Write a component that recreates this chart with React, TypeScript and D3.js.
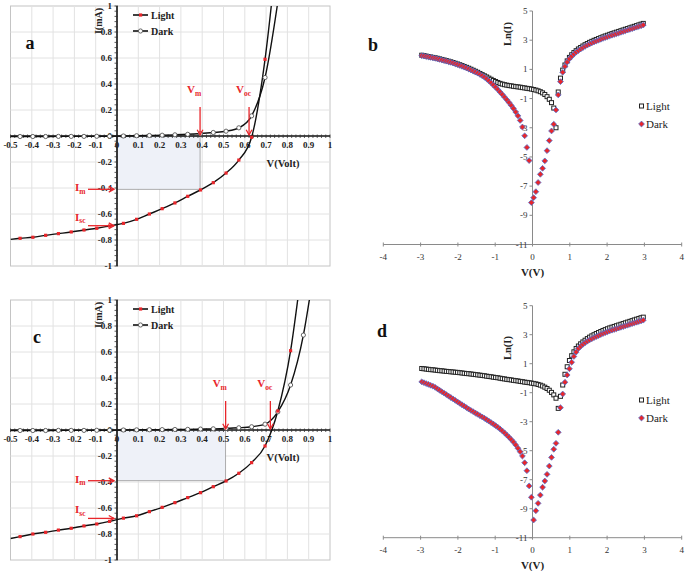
import React from "react";
import * as d3 from "d3";

// ---------------- data ----------------
// Panel a (I-V, mA)
const voltA = [-0.455, -0.395, -0.335, -0.275, -0.215, -0.155, -0.095, -0.035, 0.03, 0.092, 0.152, 0.212, 0.272, 0.332, 0.392, 0.452, 0.512, 0.572, 0.632, 0.695];
const lightA = [-0.787, -0.779, -0.764, -0.751, -0.738, -0.723, -0.71, -0.692, -0.672, -0.641, -0.6, -0.559, -0.515, -0.464, -0.415, -0.359, -0.285, -0.185, -0.01, 0.59];
const darkA = [-0.004, -0.004, -0.004, -0.003, -0.003, -0.003, -0.002, -0.002, 0, 0.002, 0.004, 0.006, 0.009, 0.013, 0.019, 0.027, 0.037, 0.063, 0.155, 0.45];
const lightAEnds = [[-0.5, -0.795], [0.75, 1.4]];
const darkAEnds = [[-0.5, -0.004], [0.77, 1.2]];
const annA = { vm: 0.39, im: -0.41, isc: -0.69, voc: 0.62 };

// Panel c (I-V, mA)
const voltC = [-0.455, -0.395, -0.335, -0.275, -0.215, -0.155, -0.095, -0.035, 0.03, 0.092, 0.152, 0.212, 0.272, 0.332, 0.392, 0.452, 0.512, 0.572, 0.632, 0.695, 0.755, 0.815, 0.875];
const lightC = [-0.82, -0.8, -0.787, -0.77, -0.756, -0.738, -0.723, -0.703, -0.678, -0.66, -0.628, -0.595, -0.559, -0.52, -0.482, -0.436, -0.392, -0.333, -0.251, -0.123, 0.146, 0.61];
const darkC = [-0.004, -0.004, -0.004, -0.003, -0.003, -0.003, -0.002, -0.002, 0, 0.001, 0.002, 0.003, 0.004, 0.005, 0.007, 0.009, 0.012, 0.017, 0.025, 0.045, 0.14, 0.346, 0.73];
const lightCEnds = [[-0.5, -0.835], [0.86, 1.15]];
const darkCEnds = [[-0.5, -0.004], [0.92, 1.18]];
const annC = { vm: 0.51, im: -0.39, isc: -0.68, voc: 0.72 };

const ivXTicks = [-0.5, -0.4, -0.3, -0.2, -0.1, 0, 0.1, 0.2, 0.3, 0.4, 0.5, 0.6, 0.7, 0.8, 0.9, 1];
const ivYTicks = [1, 0.8, 0.6, 0.4, 0.2, 0, -0.2, -0.4, -0.6, -0.8, -1];

// Panels b, d (Ln(I) vs V)
const sweep = [-2.97, -2.91, -2.85, -2.79, -2.73, -2.67, -2.61, -2.55, -2.49, -2.43, -2.37, -2.31, -2.25, -2.19, -2.13, -2.07, -2.01, -1.95, -1.89, -1.83, -1.77, -1.71, -1.65, -1.59, -1.53, -1.47, -1.41, -1.35, -1.29, -1.23, -1.17, -1.11, -1.05, -0.99, -0.93, -0.87, -0.81, -0.75, -0.69, -0.63, -0.57, -0.51, -0.45, -0.39, -0.33, -0.27, -0.21, -0.15, -0.09, -0.03, 0.03, 0.09, 0.15, 0.21, 0.27, 0.33, 0.39, 0.45, 0.51, 0.57, 0.63, 0.69, 0.75, 0.81, 0.87, 0.93, 0.99, 1.05, 1.11, 1.17, 1.23, 1.29, 1.35, 1.41, 1.47, 1.53, 1.59, 1.65, 1.71, 1.77, 1.83, 1.89, 1.95, 2.01, 2.07, 2.13, 2.19, 2.25, 2.31, 2.37, 2.43, 2.49, 2.55, 2.61, 2.67, 2.73, 2.79, 2.85, 2.91, 2.97];

const lnLightB = [1.97, 1.94, 1.91, 1.88, 1.85, 1.82, 1.79, 1.76, 1.72, 1.68, 1.64, 1.6, 1.56, 1.52, 1.47, 1.42, 1.37, 1.32, 1.26, 1.2, 1.14, 1.08, 1.01, 0.94, 0.87, 0.8, 0.72, 0.64, 0.56, 0.48, 0.4, 0.32, 0.24, 0.17, 0.1, 0.04, -0.01, -0.05, -0.08, -0.11, -0.13, -0.16, -0.18, -0.2, -0.22, -0.25, -0.27, -0.3, -0.32, -0.35, -0.38, -0.42, -0.47, -0.53, -0.61, -0.72, -0.87, -1.05, -1.28, -1.65, -3.0, -0.55, 0.4, 0.95, 1.3, 1.58, 1.82, 2.0, 2.15, 2.28, 2.4, 2.5, 2.6, 2.69, 2.77, 2.85, 2.92, 2.99, 3.05, 3.11, 3.17, 3.23, 3.29, 3.34, 3.4, 3.45, 3.5, 3.55, 3.6, 3.65, 3.7, 3.75, 3.8, 3.85, 3.9, 3.95, 4.0, 4.05, 4.1, 4.15];
const lnDarkB = [1.94, 1.91, 1.88, 1.85, 1.82, 1.79, 1.76, 1.72, 1.68, 1.64, 1.6, 1.56, 1.52, 1.48, 1.43, 1.38, 1.33, 1.27, 1.21, 1.15, 1.09, 1.02, 0.95, 0.88, 0.81, 0.74, 0.66, 0.57, 0.47, 0.35, 0.22, 0.08, -0.07, -0.22, -0.38, -0.55, -0.72, -0.9, -1.08, -1.27, -1.47, -1.68, -1.92, -2.18, -2.5, -2.95, -3.55, -4.35, -5.25, -8.13, -7.79, -7.38, -6.75, -6.19, -5.78, -5.27, -4.57, -3.88, -3.22, -2.76, -1.78, -0.75, 0.16, 0.8, 1.2, 1.5, 1.72, 1.9, 2.05, 2.18, 2.29, 2.39, 2.49, 2.58, 2.66, 2.74, 2.81, 2.88, 2.94, 3.0, 3.06, 3.12, 3.18, 3.23, 3.29, 3.34, 3.39, 3.44, 3.49, 3.54, 3.59, 3.64, 3.69, 3.74, 3.79, 3.84, 3.89, 3.94, 3.99, 4.04];

const lnLightD = [0.67, 0.65, 0.63, 0.61, 0.59, 0.58, 0.56, 0.54, 0.52, 0.51, 0.49, 0.47, 0.46, 0.44, 0.43, 0.41, 0.4, 0.38, 0.36, 0.34, 0.32, 0.31, 0.29, 0.27, 0.25, 0.23, 0.21, 0.19, 0.17, 0.14, 0.12, 0.1, 0.07, 0.05, 0.03, 0.0, -0.03, -0.05, -0.08, -0.1, -0.12, -0.15, -0.17, -0.19, -0.22, -0.24, -0.27, -0.29, -0.31, -0.34, -0.36, -0.39, -0.43, -0.48, -0.54, -0.62, -0.71, -0.83, -0.98, -1.15, -1.38, -2.08, -1.25, -0.47, 0.27, 0.79, 1.22, 1.55, 1.82, 2.05, 2.22, 2.37, 2.5, 2.62, 2.73, 2.83, 2.92, 3.0, 3.08, 3.15, 3.22, 3.29, 3.35, 3.41, 3.47, 3.52, 3.57, 3.62, 3.67, 3.72, 3.77, 3.82, 3.87, 3.92, 3.97, 4.02, 4.07, 4.12, 4.17, 4.21];
const lnDarkD = [-0.25, -0.31, -0.37, -0.43, -0.49, -0.55, -0.63, -0.73, -0.83, -0.93, -1.03, -1.13, -1.23, -1.33, -1.43, -1.53, -1.63, -1.73, -1.83, -1.93, -2.03, -2.13, -2.22, -2.31, -2.4, -2.49, -2.58, -2.67, -2.76, -2.86, -2.96, -3.06, -3.16, -3.27, -3.38, -3.5, -3.63, -3.77, -3.92, -4.07, -4.23, -4.4, -4.6, -4.83, -5.07, -5.37, -5.83, -6.38, -7.43, -8.21, -9.78, -9.14, -8.63, -8.06, -7.52, -7.09, -6.63, -6.06, -5.46, -4.9, -4.49, -3.73, -2.03, -1.09, -0.28, 0.22, 0.65, 1.1, 1.5, 1.8, 2.05, 2.2, 2.33, 2.45, 2.55, 2.64, 2.72, 2.8, 2.87, 2.94, 3.01, 3.08, 3.14, 3.2, 3.26, 3.31, 3.36, 3.41, 3.46, 3.51, 3.56, 3.61, 3.66, 3.71, 3.76, 3.81, 3.86, 3.91, 3.95, 4.0];

const lnXTicks = [-4, -3, -2, -1, 0, 1, 2, 3, 4];
const lnYTicks = [5, 3, 1, -1, -3, -5, -7, -9, -11];

// ---------------- styling ----------------
const FONT = "'Liberation Serif','Times New Roman',serif";
const RED = "#e8262b";

function Arrow({ x1, y1, x2, y2 }: { x1: number; y1: number; x2: number; y2: number }) {
  const ang = Math.atan2(y2 - y1, x2 - x1);
  const L = 6;
  const a = 0.5;
  const p1 = [x2 - L * Math.cos(ang - a), y2 - L * Math.sin(ang - a)];
  const p2 = [x2 - L * Math.cos(ang + a), y2 - L * Math.sin(ang + a)];
  return (
    <g stroke={RED} strokeWidth={1.3} fill="none">
      <line x1={x1} y1={y1} x2={x2} y2={y2} />
      <path d={`M${p1[0]},${p1[1]}L${x2},${y2}L${p2[0]},${p2[1]}`} />
    </g>
  );
}

function SubText({ x, y, main, sub, anchor = "start" }: any) {
  return (
    <text x={x} y={y} fill={RED} fontFamily={FONT} fontWeight="bold" fontSize={11} textAnchor={anchor}>
      {main}
      <tspan fontSize={7.5} dy={2.5}>{sub}</tspan>
    </text>
  );
}

function IVPanel(p: any) {
  const x = d3.scaleLinear().domain([-0.5, 1]).range([10.5, 330]);
  const y = d3.scaleLinear().domain([-1, 1]).range([p.bottom, p.top]);
  const x0 = x(0);
  const y0 = y(0);
  const line = d3
    .line<number[]>()
    .x((d) => x(d[0]))
    .y((d) => y(d[1]))
    .curve(d3.curveMonotoneX);
  const lightPts = [p.lightEnds[0], ...p.light.map((v: number, i: number) => [p.volt[i], v]), p.lightEnds[1]];
  const darkPts = [p.darkEnds[0], ...p.dark.map((v: number, i: number) => [p.volt[i], v]), p.darkEnds[1]];
  const minorX = d3.range(-0.5, 1.0001, 0.02);
  const minorY = d3.range(-1, 1.0001, 0.04);
  const gx = ivXTicks.filter((v) => Math.abs(v) > 1e-6 && Math.abs(v) < 0.99 && v > -0.45);
  const gy = ivYTicks.filter((v) => Math.abs(v) > 1e-6 && Math.abs(v) < 0.99);
  const clip = `clip-${p.id}`;
  const lx = 133;
  return (
    <g>
      <defs>
        <clipPath id={clip}>
          <rect x={x(-0.5)} y={y(1)} width={x(1) - x(-0.5)} height={y(-1) - y(1)} />
        </clipPath>
      </defs>
      <rect x={x(-0.5)} y={y(1)} width={x(1) - x(-0.5)} height={y(-1) - y(1)} fill="#fff" stroke="#c4c4c4" strokeWidth={1} />
      {gx.map((v) => (
        <line key={"gx" + v} x1={x(v)} x2={x(v)} y1={y(1)} y2={y(-1)} stroke="#e2e2e2" strokeWidth={1} />
      ))}
      {gy.map((v) => (
        <line key={"gy" + v} x1={x(-0.5)} x2={x(1)} y1={y(v)} y2={y(v)} stroke="#e2e2e2" strokeWidth={1} />
      ))}
      {/* max power rectangle */}
      <rect x={x0} y={y0} width={x(p.ann.vm) - x0} height={y(p.ann.im) - y0} fill="#eef1f8" stroke="#9a9a9a" strokeWidth={0.8} />
      {/* axes */}
      <line x1={x(-0.5)} x2={x(1)} y1={y0} y2={y0} stroke="#111" strokeWidth={1.6} />
      <line x1={x0} x2={x0} y1={y(1)} y2={y(-1)} stroke="#111" strokeWidth={1.6} />
      {minorX.map((v, i) => (
        <line key={"mx" + i} x1={x(v)} x2={x(v)} y1={y0 - 1.5} y2={y0 + 2} stroke="#333" strokeWidth={0.8} />
      ))}
      {minorY.map((v, i) => (
        <line key={"my" + i} x1={x0 - 2.5} x2={x0 + 1} y1={y(v)} y2={y(v)} stroke="#333" strokeWidth={0.8} />
      ))}
      {ivXTicks.map((v) => (
        <text key={"xl" + v} x={x(v)} y={y0 + 12} textAnchor="middle" fontFamily={FONT} fontWeight="bold" fontSize={9} fill="#222">
          {String(v)}
        </text>
      ))}
      {ivYTicks.map((v) => (
        <text key={"yl" + v} x={x0 - 5} y={y(v) + 3} textAnchor="end" fontFamily={FONT} fontWeight="bold" fontSize={9} fill="#222">
          {String(v)}
        </text>
      ))}
      {/* curves */}
      <g clipPath={`url(#${clip})`}>
        <path d={line(darkPts as any) || ""} fill="none" stroke="#111" strokeWidth={1.4} />
        <path d={line(lightPts as any) || ""} fill="none" stroke="#111" strokeWidth={1.4} />
        {p.dark.map((v: number, i: number) => (
          <circle key={"dm" + i} cx={x(p.volt[i])} cy={y(v)} r={2.1} fill="#fff" stroke="#555" strokeWidth={0.9} />
        ))}
        {p.light.map((v: number, i: number) => (
          <rect key={"lm" + i} x={x(p.volt[i]) - 1.6} y={y(v) - 1.6} width={3.2} height={3.2} fill={RED} />
        ))}
      </g>
      {/* annotations */}
      <Arrow x1={x(p.ann.vm)} y1={y0 - 29} x2={x(p.ann.vm)} y2={y0 - 1} />
      <SubText x={x(p.ann.vm) - 13} y={y0 - 43} main="V" sub="m" />
      <Arrow x1={x(p.ann.voc)} y1={y0 - 29} x2={x(p.ann.voc)} y2={y0 - 1} />
      <SubText x={x(p.ann.voc) - 13} y={y0 - 43} main="V" sub="oc" />
      <Arrow x1={88} y1={y(p.ann.im)} x2={x0 - 3} y2={y(p.ann.im)} />
      <SubText x={75} y={y(p.ann.im) + 2} main="I" sub="m" />
      <Arrow x1={88} y1={y(p.ann.isc)} x2={x0 - 3} y2={y(p.ann.isc)} />
      <SubText x={75} y={y(p.ann.isc) - 5} main="I" sub="sc" />
      {/* legend */}
      <line x1={lx} x2={lx + 15} y1={p.top + 9} y2={p.top + 9} stroke="#111" strokeWidth={1.6} />
      <rect x={lx + 6} y={p.top + 7.4} width={3.2} height={3.2} fill={RED} />
      <text x={lx + 18} y={p.top + 12.5} fontFamily={FONT} fontWeight="bold" fontSize={10} fill="#222">Light</text>
      <line x1={lx} x2={lx + 15} y1={p.top + 25} y2={p.top + 25} stroke="#111" strokeWidth={1.6} />
      <circle cx={lx + 7.5} cy={p.top + 25} r={2.1} fill="#fff" stroke="#555" strokeWidth={0.9} />
      <text x={lx + 18} y={p.top + 28.5} fontFamily={FONT} fontWeight="bold" fontSize={10} fill="#222">Dark</text>
      {/* axis titles */}
      <text transform={`translate(${x0 - 17},${p.top + 15}) rotate(-90)`} textAnchor="middle" dominantBaseline="middle" fontFamily={FONT} fontWeight="bold" fontSize={10} fill="#222">
        I(mA)
      </text>
      <text x={283} y={y0 + 31} textAnchor="middle" fontFamily={FONT} fontWeight="bold" fontSize={10.5} fill="#222">
        V(Volt)
      </text>
      <text x={p.letterX} y={p.top + 43} textAnchor="middle" fontFamily={FONT} fontWeight="bold" fontSize={18} fill="#111">
        {p.letter}
      </text>
    </g>
  );
}

function LnPanel(p: any) {
  const x = d3.scaleLinear().domain([-4, 4]).range([383.3, 681.7]);
  const y = d3.scaleLinear().domain([-11, 5]).range([p.bottom, p.top]);
  const x0 = x(0);
  const yb = y(-11);
  const diamond = (cx: number, cy: number) => `M${cx},${cy - 2.9}L${cx + 2.9},${cy}L${cx},${cy + 2.9}L${cx - 2.9},${cy}Z`;
  return (
    <g>
      <line x1={x0} x2={x0} y1={y(5)} y2={yb} stroke="#8a8a8a" strokeWidth={1} />
      <line x1={x(-4)} x2={x(4)} y1={yb} y2={yb} stroke="#8a8a8a" strokeWidth={1} />
      {lnYTicks.map((v) => (
        <g key={"yt" + v}>
          <line x1={x0 - 3} x2={x0} y1={y(v)} y2={y(v)} stroke="#8a8a8a" />
          <text x={x0 - 5} y={y(v) + 3} textAnchor="end" fontFamily={FONT} fontSize={9} fill="#333">
            {String(v)}
          </text>
        </g>
      ))}
      {lnXTicks.map((v) => (
        <g key={"xt" + v}>
          <line x1={x(v)} x2={x(v)} y1={yb - 2} y2={yb + 2} stroke="#8a8a8a" />
          <text x={x(v)} y={yb + 15} textAnchor="middle" fontFamily={FONT} fontSize={9} fill="#333">
            {String(v)}
          </text>
        </g>
      ))}
      {p.light.map((v: number, i: number) => (
        <rect key={"l" + i} x={x(sweep[i]) - 2} y={y(v) - 2} width={4} height={4} fill="#fff" stroke="#222" strokeWidth={1} />
      ))}
      {p.dark.map((v: number, i: number) => (
        <path key={"d" + i} d={diamond(x(sweep[i]), y(v))} fill={RED} stroke="#4f73d0" strokeWidth={0.8} />
      ))}
      {/* legend */}
      <rect x={639.5} y={p.legY - 2} width={4} height={4} fill="#fff" stroke="#222" strokeWidth={1} />
      <text x={646} y={p.legY + 4} fontFamily={FONT} fontSize={11} fill="#222">Light</text>
      <path d={diamond(641.5, p.legY + 18)} fill={RED} stroke="#4f73d0" strokeWidth={0.8} />
      <text x={646} y={p.legY + 22} fontFamily={FONT} fontSize={11} fill="#222">Dark</text>
      {/* titles */}
      <text transform={`translate(${x0 - 24},${p.lnY}) rotate(-90)`} textAnchor="middle" dominantBaseline="middle" fontFamily={FONT} fontWeight="bold" fontSize={10.5} fill="#222">
        Ln(I)
      </text>
      <text x={x0} y={yb + 31} textAnchor="middle" fontFamily={FONT} fontWeight="bold" fontSize={11} fill="#222">
        V(V)
      </text>
      <text x={p.letterX} y={p.letterY} textAnchor="middle" fontFamily={FONT} fontWeight="bold" fontSize={18} fill="#111">
        {p.letter}
      </text>
    </g>
  );
}

export default function App() {
  return (
    <svg
      width={685}
      height={571}
      viewBox="0 0 685 571"
      style={{ position: "absolute", left: 0, top: 0, background: "#fff" }}
    >
      <rect x={0} y={0} width={685} height={571} fill="#fff" />
      <IVPanel id="a" top={6} bottom={266} volt={voltA} light={lightA} dark={darkA} lightEnds={lightAEnds} darkEnds={darkAEnds} ann={annA} letter="a" letterX={30} />
      <IVPanel id="c" top={300} bottom={560} volt={voltC} light={lightC} dark={darkC} lightEnds={lightCEnds} darkEnds={darkCEnds} ann={annC} letter="c" letterX={37} />
      <LnPanel top={11} bottom={244.5} light={lnLightB} dark={lnDarkB} legY={106} lnY={34} letter="b" letterX={373} letterY={51} />
      <LnPanel top={305.7} bottom={537.7} light={lnLightD} dark={lnDarkD} legY={400} lnY={348} letter="d" letterX={382} letterY={337} />
    </svg>
  );
}
